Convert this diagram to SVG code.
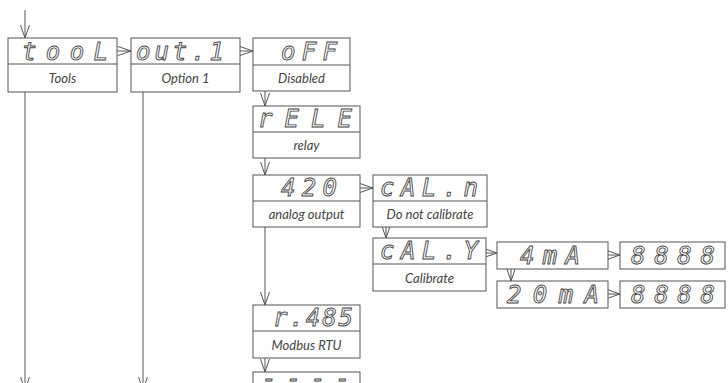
<svg xmlns="http://www.w3.org/2000/svg" width="728" height="383" viewBox="0 0 728 383">
<style>
.box{fill:#fff;stroke:#555;stroke-width:1}
.div{stroke:#555;stroke-width:1}
.seg{font-family:"DejaVu Sans Mono","Liberation Mono",monospace;font-style:italic;font-size:24px;fill:#fff;stroke:#444;stroke-width:0.9}
.lbl{font-family:Lato,"Open Sans","Liberation Sans",sans-serif;font-style:italic;font-size:13px;fill:#444;text-anchor:middle}
.con{fill:none;stroke:#555;stroke-width:1;marker-end:url(#arr)}
</style>
<defs>
<marker id="arr" markerUnits="userSpaceOnUse" viewBox="-14 -5 15 10" refX="0" refY="0" markerWidth="15" markerHeight="10" orient="auto">
<path d="M-13,-4.5 L0,0 L-13,4.5" fill="none" stroke="#555" stroke-width="1"/>
</marker>
</defs>
<g id="connectors">
<path class="con" d="M25,10 V38"/>
<path class="con" d="M25,92 V390"/>
<path class="con" d="M143,92 V390"/>
<path class="con" d="M117,51 H131"/>
<path class="con" d="M240,51 H253"/>
<path class="con" d="M265,91 V106"/>
<path class="con" d="M265,158 V175"/>
<path class="con" d="M265,227 V305"/>
<path class="con" d="M265,358 V372"/>
<path class="con" d="M360,188 H373"/>
<path class="con" d="M386,227 V238"/>
<path class="con" d="M486,253 H497"/>
<path class="con" d="M608,255 H620"/>
<path class="con" d="M511,269 V281"/>
<path class="con" d="M608,294 H620"/>
</g>
<g id="tool">
<rect class="box" x="8" y="38" width="109" height="54"/>
<line class="div" x1="8" y1="64" x2="117" y2="64"/>
<text class="seg" x="22" y="60" textLength="86" lengthAdjust="spacing">tooL</text>
<text class="lbl" x="62.5" y="83">Tools</text>
</g>
<g id="out1">
<rect class="box" x="131" y="38" width="109" height="54"/>
<line class="div" x1="131" y1="64" x2="240" y2="64"/>
<text class="seg" x="136" y="60" textLength="88" lengthAdjust="spacing">out.1</text>
<text class="lbl" x="185.5" y="83">Option 1</text>
</g>
<g id="off">
<rect class="box" x="253" y="38" width="97" height="53"/>
<line class="div" x1="253" y1="65" x2="350" y2="65"/>
<text class="seg" x="281" y="60" textLength="56" lengthAdjust="spacing">oFF</text>
<text class="lbl" x="301.5" y="83">Disabled</text>
</g>
<g id="rele">
<rect class="box" x="253" y="106" width="107" height="52"/>
<line class="div" x1="253" y1="132" x2="360" y2="132"/>
<text class="seg" x="258" y="127" textLength="94" lengthAdjust="spacing">rELE</text>
<text class="lbl" x="306.5" y="150">relay</text>
</g>
<g id="a420">
<rect class="box" x="253" y="175" width="107" height="52"/>
<line class="div" x1="253" y1="201" x2="360" y2="201"/>
<text class="seg" x="281" y="196" textLength="56" lengthAdjust="spacing">420</text>
<text class="lbl" x="306.5" y="219">analog output</text>
</g>
<g id="caln">
<rect class="box" x="373" y="175" width="114" height="52"/>
<line class="div" x1="373" y1="201" x2="487" y2="201"/>
<text class="seg" x="380" y="196" textLength="98" lengthAdjust="spacing">cAL.n</text>
<text class="lbl" x="430" y="219">Do not calibrate</text>
</g>
<g id="caly">
<rect class="box" x="373" y="238" width="113" height="53"/>
<line class="div" x1="373" y1="264" x2="486" y2="264"/>
<text class="seg" x="380" y="259" textLength="98" lengthAdjust="spacing">cAL.Y</text>
<text class="lbl" x="429.5" y="283">Calibrate</text>
</g>
<g id="ma4">
<rect class="box" x="497" y="242" width="111" height="27"/>
<text class="seg" x="520" y="264" textLength="60" lengthAdjust="spacing">4mA</text>
</g>
<g id="val4">
<rect class="box" x="620" y="242" width="105" height="27"/>
<text class="seg" x="631" y="264" textLength="84" lengthAdjust="spacing">8888</text>
</g>
<g id="ma20">
<rect class="box" x="497" y="281" width="111" height="27"/>
<text class="seg" x="507" y="303" textLength="92" lengthAdjust="spacing">20mA</text>
</g>
<g id="val20">
<rect class="box" x="620" y="281" width="105" height="27"/>
<text class="seg" x="631" y="303" textLength="84" lengthAdjust="spacing">8888</text>
</g>
<g id="r485">
<rect class="box" x="253" y="305" width="107" height="53"/>
<line class="div" x1="253" y1="331" x2="360" y2="331"/>
<text class="seg" x="273" y="326" textLength="80" lengthAdjust="spacing">r.485</text>
<text class="lbl" x="306.5" y="350">Modbus RTU</text>
</g>
<g id="next">
<rect class="box" x="253" y="372" width="107" height="30"/>
<text class="seg" x="262" y="387" textLength="88" lengthAdjust="spacing">----</text>
</g>
</svg>
